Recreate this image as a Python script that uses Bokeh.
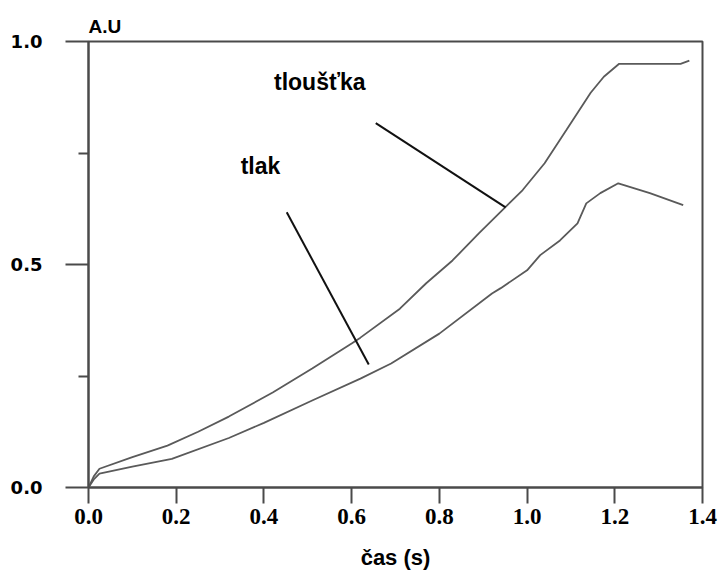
from bokeh.plotting import figure
from bokeh.models import Range1d, FixedTicker, Label
from bokeh.embed import file_html
from bokeh.resources import INLINE

# Thickness ("tloušťka") and pressure ("tlak") over time, arbitrary units
t_thick = [0.0, 0.012, 0.025, 0.10, 0.18, 0.25, 0.32, 0.42, 0.51, 0.60, 0.62, 0.71,
           0.77, 0.83, 0.89, 0.95, 0.99, 1.04, 1.09, 1.145, 1.175, 1.21, 1.35, 1.37]
thick = [0.0, 0.025, 0.042, 0.068, 0.094, 0.125, 0.159, 0.213, 0.267, 0.323, 0.336, 0.401,
         0.458, 0.509, 0.570, 0.628, 0.667, 0.727, 0.802, 0.885, 0.921, 0.950, 0.950, 0.957]

t_press = [0.0, 0.012, 0.025, 0.10, 0.19, 0.32, 0.40, 0.51, 0.62, 0.69, 0.80, 0.92,
           0.94, 1.00, 1.03, 1.075, 1.115, 1.135, 1.167, 1.208, 1.28, 1.356]
press = [0.0, 0.018, 0.031, 0.047, 0.064, 0.111, 0.145, 0.195, 0.244, 0.278, 0.345, 0.435,
         0.447, 0.487, 0.521, 0.554, 0.592, 0.637, 0.660, 0.682, 0.660, 0.633]

x_ticks = [0.0, 0.2, 0.4, 0.6, 0.8, 1.0, 1.2, 1.4]
y_ticks = [0.0, 0.5, 1.0]
y_minor = [0.25, 0.75]

# Callout labels and their leader lines (text anchor, line start, line end)
labels = ["tloušťka", "tlak"]
label_x = [0.423, 0.347]
label_y = [0.910, 0.720]
leader_x0 = [0.655, 0.452]
leader_y0 = [0.817, 0.617]
leader_x1 = [0.951, 0.639]
leader_y1 = [0.628, 0.276]

AXIS = "#4a4a4a"
CURVE = "#5a5a5a"

p = figure(width=719, height=573, output_backend="svg", toolbar_location=None,
           x_range=Range1d(0, 1.4), y_range=Range1d(0, 1.0),
           min_border_left=88, min_border_right=17, min_border_top=41, min_border_bottom=86)

p.background_fill_color = "white"
p.border_fill_color = "white"
p.grid.visible = False
p.outline_line_color = AXIS
p.outline_line_width = 2

# Unit of the value axis, shown above its top end
p.title.text = "A.U"
p.title.align = "left"
p.title.offset = 0
p.title.standoff = 9
p.title.text_font = "Liberation Sans"
p.title.text_font_style = "bold"
p.title.text_font_size = "19px"
p.title.text_color = "black"

xa = p.xaxis[0]
xa.ticker = FixedTicker(ticks=x_ticks)
xa.major_label_overrides = {v: f"{v:.1f}" for v in x_ticks}
xa.axis_line_color = AXIS
xa.axis_line_width = 2
xa.major_tick_line_color = AXIS
xa.major_tick_line_width = 2
xa.major_tick_out = 16
xa.major_tick_in = 0
xa.minor_tick_line_color = None
xa.major_label_standoff = 5
xa.major_label_text_font = "Liberation Serif"
xa.major_label_text_font_style = "bold"
xa.major_label_text_font_size = "23px"
xa.major_label_text_line_height = 0.8
xa.major_label_text_color = "black"
xa.axis_label = "čas (s)"
xa.axis_label_text_font = "Liberation Sans"
xa.axis_label_text_font_style = "bold"
xa.axis_label_text_font_size = "22px"
xa.axis_label_text_line_height = 0.8
xa.axis_label_text_color = "black"
xa.axis_label_standoff = 18

ya = p.yaxis[0]
ya.ticker = FixedTicker(ticks=y_ticks, minor_ticks=y_minor)
ya.major_label_overrides = {v: f"{v:.1f}" for v in y_ticks}
ya.axis_line_color = AXIS
ya.axis_line_width = 2
ya.major_tick_line_color = AXIS
ya.major_tick_line_width = 2
ya.major_tick_out = 23
ya.major_tick_in = 0
ya.minor_tick_line_color = AXIS
ya.minor_tick_line_width = 2
ya.minor_tick_out = 10
ya.minor_tick_in = 0
ya.major_label_standoff = 23
ya.major_label_text_font = "DejaVu Sans"
ya.major_label_text_font_style = "bold"
ya.major_label_text_font_size = "18px"
ya.major_label_text_color = "black"

p.line(t_thick, thick, line_color=CURVE, line_width=1.8)
p.line(t_press, press, line_color=CURVE, line_width=1.8)

p.segment(x0=leader_x0, y0=leader_y0, x1=leader_x1, y1=leader_y1,
          line_color="#111111", line_width=2)

for txt, lx, ly in zip(labels, label_x, label_y):
    p.add_layout(Label(x=lx, y=ly, text=txt, text_font="Liberation Sans",
                       text_font_style="bold", text_font_size="23px", text_color="black",
                       text_align="left", text_baseline="alphabetic"))

open("out.html", "w").write(file_html(p, INLINE))
